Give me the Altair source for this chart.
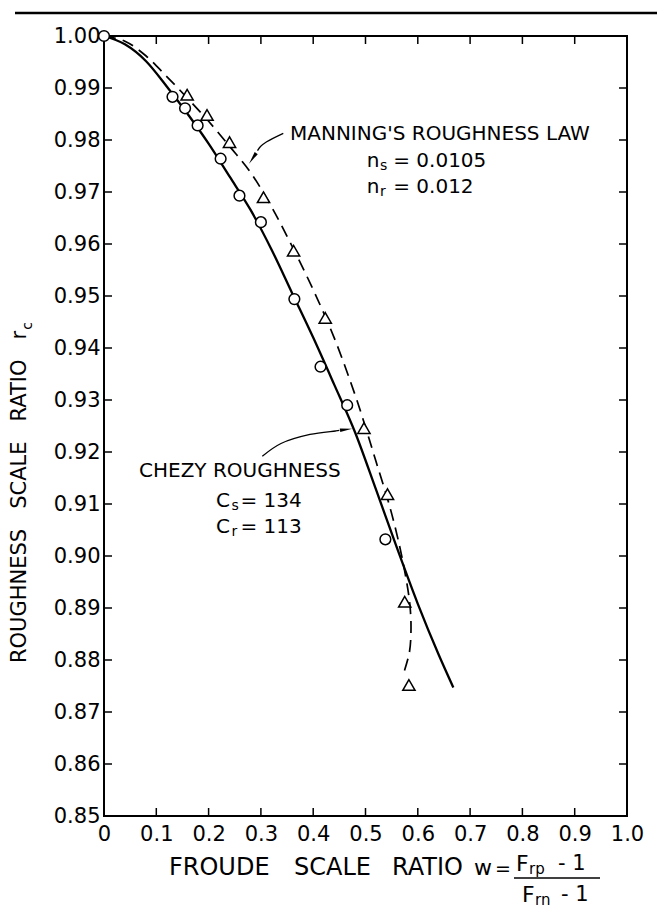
import altair as alt
import pandas as pd

FONT = "DejaVu Sans"

# ---------------- data ----------------
# Chezy roughness curve (solid)
chezy_w = [0.000, 0.040, 0.080, 0.120, 0.160, 0.200, 0.240, 0.280, 0.320, 0.360,
           0.400, 0.440, 0.480, 0.520, 0.560, 0.600, 0.640, 0.668]
chezy_r = [1.0000, 0.9984, 0.9952, 0.9903, 0.9850, 0.9793, 0.9730, 0.9666, 0.9590, 0.9505,
           0.9420, 0.9330, 0.9238, 0.9128, 0.9016, 0.8908, 0.8810, 0.8747]

# Manning's roughness law curve (dashed), turns back at the bottom
manning_w = [0.000, 0.040, 0.080, 0.120, 0.160, 0.200, 0.240, 0.280, 0.320, 0.360,
             0.400, 0.440, 0.480, 0.500, 0.520, 0.545, 0.565, 0.578, 0.585, 0.587,
             0.584, 0.573]
manning_r = [1.0000, 0.9990, 0.9962, 0.9922, 0.9880, 0.9836, 0.9788, 0.9738, 0.9672, 0.9595,
             0.9512, 0.9420, 0.9310, 0.9248, 0.9182, 0.9100, 0.9020, 0.8954, 0.8905, 0.8860,
             0.8815, 0.8775]

# measured points
circle_w = [0.000, 0.131, 0.155, 0.179, 0.223, 0.259, 0.300, 0.364, 0.414, 0.465, 0.538]
circle_r = [1.0000, 0.9883, 0.9861, 0.9828, 0.9764, 0.9693, 0.9642, 0.9494, 0.9364, 0.9290, 0.9032]
triangle_w = [0.159, 0.197, 0.240, 0.305, 0.3625, 0.423, 0.497, 0.542, 0.575, 0.583]
triangle_r = [0.9887, 0.9848, 0.9796, 0.9690, 0.9587, 0.9458, 0.9246, 0.9119, 0.8912, 0.8752]

# axis ticks / labels
x_ticks = [0.0, 0.1, 0.2, 0.3, 0.4, 0.5, 0.6, 0.7, 0.8, 0.9, 1.0]
y_ticks = [0.85, 0.86, 0.87, 0.88, 0.89, 0.90, 0.91, 0.92, 0.93, 0.94,
           0.95, 0.96, 0.97, 0.98, 0.99, 1.00]
x_inner = [0.1, 0.2, 0.3, 0.4, 0.5, 0.6, 0.7, 0.8, 0.9]
y_inner = [0.86, 0.87, 0.88, 0.89, 0.90, 0.91, 0.92, 0.93, 0.94,
           0.95, 0.96, 0.97, 0.98, 0.99]

# in-plot annotations (data coordinates)
ann_main_text = ["MANNING'S ROUGHNESS LAW", "n", "= 0.0105", "n", "= 0.012",
                 "CHEZY ROUGHNESS", "C", "= 134", "C", "= 113"]
ann_main_w = [0.3556, 0.5023, 0.5530, 0.5023, 0.5530, 0.0669, 0.2141, 0.2610, 0.2141, 0.2610]
ann_main_r = [0.98115, 0.97596, 0.97596, 0.97096, 0.97096, 0.91635, 0.91058, 0.91058, 0.90558, 0.90558]
ann_sub_text = ["s", "r", "s", "r"]
ann_sub_w = [0.5277, 0.5277, 0.2440, 0.2440]
ann_sub_r = [0.9750, 0.9700, 0.90962, 0.90462]

manning_arrow_w = [0.3428, 0.3111, 0.2992, 0.2935]
manning_arrow_r = [0.98129, 0.97967, 0.97875, 0.97795]
manning_head = (0.2865, 0.97680, 214)
chezy_arrow_w = [0.3027, 0.3384, 0.3939, 0.4426, 0.4500]
chezy_arrow_r = [0.91919, 0.92163, 0.92337, 0.92404, 0.92414]
chezy_head = (0.4590, 0.92427, 82)

# ---------------- chart ----------------
W, H = 523, 780
xs = alt.Scale(domain=[0, 1], nice=False, zero=False)
ys = alt.Scale(domain=[0.85, 1.0], nice=False, zero=False)

xaxis = alt.Axis(values=x_ticks,
                 labelExpr="datum.value == 0 ? '0' : format(datum.value, '.1f')",
                 ticks=False, domain=False, grid=False, title=None,
                 labelFont=FONT, labelFontSize=21, labelColor="black",
                 labelPadding=7, labelOverlap=False, labelFlush=False)
yaxis = alt.Axis(values=y_ticks, format=".2f",
                 ticks=False, domain=False, grid=False, title=None,
                 labelFont=FONT, labelFontSize=21, labelColor="black",
                 labelPadding=4, labelOverlap=False, labelFlush=False)

X = lambda f: alt.X(f, type="quantitative", scale=xs, axis=xaxis)
Y = lambda f: alt.Y(f, type="quantitative", scale=ys, axis=yaxis)

dummy = pd.DataFrame({"a": [0]})

chezy_df = pd.DataFrame({"w": chezy_w, "r": chezy_r, "i": range(len(chezy_w))})
manning_df = pd.DataFrame({"w": manning_w, "r": manning_r, "i": range(len(manning_w))})
circ_df = pd.DataFrame({"w": circle_w, "r": circle_r})
tri_df = pd.DataFrame({"w": triangle_w, "r": triangle_r})

solid = alt.Chart(chezy_df).mark_line(color="black", strokeWidth=2.3,
                                      interpolate="monotone").encode(
    x=X("w"), y=Y("r"), order=alt.Order("i:Q"))
dashed = alt.Chart(manning_df).mark_line(color="black", strokeWidth=1.7,
                                         strokeDash=[12, 7],
                                         interpolate="catmull-rom").encode(
    x=X("w"), y=Y("r"), order=alt.Order("i:Q"))
circles = alt.Chart(circ_df).mark_point(shape="circle", size=115, filled=True,
                                        fill="white", fillOpacity=1, stroke="black",
                                        strokeWidth=1.5, opacity=1).encode(
    x=X("w"), y=Y("r"))
tris = alt.Chart(tri_df).mark_point(shape="triangle-up", size=150, filled=True,
                                    fill="white", fillOpacity=1, stroke="black",
                                    strokeWidth=1.5, opacity=1).encode(
    x=X("w"), y=Y("r"))

# inward tick marks on all four sides
xt = pd.DataFrame({"t": x_inner})
yt = pd.DataFrame({"t": y_inner})
tk = dict(color="black", strokeWidth=1.5)
top_ticks = alt.Chart(xt).mark_rule(**tk).encode(x=X("t"), y=alt.value(0), y2=alt.value(8))
bot_ticks = alt.Chart(xt).mark_rule(**tk).encode(x=X("t"), y=alt.value(H), y2=alt.value(H - 8))
left_ticks = alt.Chart(yt).mark_rule(**tk).encode(y=Y("t"), x=alt.value(0), x2=alt.value(8))
right_ticks = alt.Chart(yt).mark_rule(**tk).encode(y=Y("t"), x=alt.value(W - 8), x2=alt.value(W))

# annotations
am = pd.DataFrame({"w": ann_main_w, "r": ann_main_r, "label": ann_main_text})
asub = pd.DataFrame({"w": ann_sub_w, "r": ann_sub_r, "label": ann_sub_text})
ann_main = alt.Chart(am).mark_text(font=FONT, fontSize=20, align="left",
                                   baseline="middle", color="black", fill="black").encode(
    x=X("w"), y=Y("r"), text="label:N")
ann_sub = alt.Chart(asub).mark_text(font=FONT, fontSize=14, align="left",
                                    baseline="middle", color="black", fill="black").encode(
    x=X("w"), y=Y("r"), text="label:N")

ma_df = pd.DataFrame({"w": manning_arrow_w, "r": manning_arrow_r, "i": range(len(manning_arrow_w))})
ca_df = pd.DataFrame({"w": chezy_arrow_w, "r": chezy_arrow_r, "i": range(len(chezy_arrow_w))})
m_arrow = alt.Chart(ma_df).mark_line(color="black", strokeWidth=1.3,
                                     interpolate="catmull-rom").encode(
    x=X("w"), y=Y("r"), order=alt.Order("i:Q"))
c_arrow = alt.Chart(ca_df).mark_line(color="black", strokeWidth=1.3,
                                     interpolate="catmull-rom").encode(
    x=X("w"), y=Y("r"), order=alt.Order("i:Q"))
m_head = alt.Chart(pd.DataFrame({"w": [manning_head[0]], "r": [manning_head[1]]})).mark_point(
    shape="wedge", size=220, filled=True, color="black", opacity=1,
    angle=manning_head[2]).encode(x=X("w"), y=Y("r"))
c_head = alt.Chart(pd.DataFrame({"w": [chezy_head[0]], "r": [chezy_head[1]]})).mark_point(
    shape="wedge", size=200, filled=True, color="black", opacity=1,
    angle=chezy_head[2]).encode(x=X("w"), y=Y("r"))


def ptext(s, x, y, size, align="left", angle=0):
    return alt.Chart(dummy).mark_text(text=s, font=FONT, fontSize=size, align=align,
                                      baseline="middle", angle=angle,
                                      color="black", fill="black").encode(
        x=alt.value(x), y=alt.value(y))


titles = [
    # y-axis title (rotated)
    ptext("ROUGHNESS\u00a0\u00a0 SCALE\u00a0\u00a0 RATIO\u00a0\u00a0 r", -84, 627, 21, "left", 270),
    ptext("c", -76, 290, 14, "center", 270),
    # x-axis title
    ptext("FROUDE", 65, 832, 24),
    ptext("SCALE", 190, 832, 24),
    ptext("RATIO", 288, 832, 24),
    ptext("w", 370, 832, 22),
    ptext("=", 399, 833, 19, "center"),
    ptext("F", 412, 828, 22),
    ptext("rp", 425, 833, 15),
    ptext("- 1", 454, 828, 21),
    ptext("F", 418, 859, 22),
    ptext("rn", 431, 864, 15),
    ptext("- 1", 457, 859, 21),
]
frac_line = alt.Chart(dummy).mark_rule(color="black", strokeWidth=1.5).encode(
    x=alt.value(410), x2=alt.value(496), y=alt.value(842))
header_rule = alt.Chart(dummy).mark_rule(color="black", strokeWidth=2.5).encode(
    x=alt.value(-89), x2=alt.value(560), y=alt.value(-23))

chart = alt.layer(
    top_ticks, bot_ticks, left_ticks, right_ticks,
    dashed, solid, m_arrow, c_arrow, m_head, c_head,
    circles, tris, ann_main, ann_sub,
    frac_line, header_rule, *titles
).properties(
    width=W, height=H,
    autosize=alt.AutoSizeParams(type="none"),
    padding={"left": 96, "top": 28, "right": 30, "bottom": 100},
    background="white",
).configure_view(stroke="black", strokeWidth=2)

chart.save("out.html", embed_options={"renderer": "svg", "actions": False})
